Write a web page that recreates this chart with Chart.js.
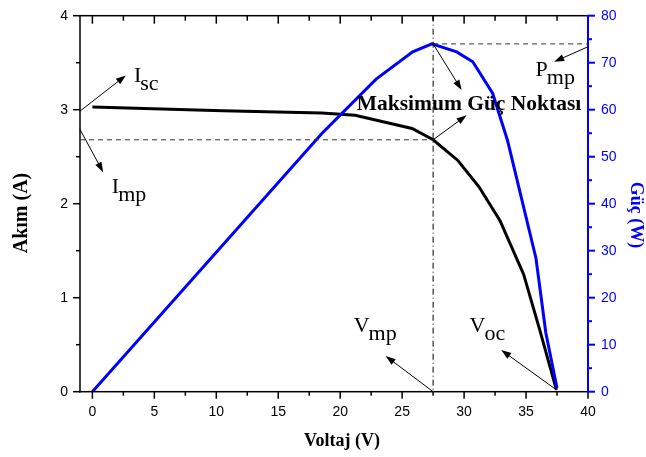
<!DOCTYPE html>
<html>
<head>
<meta charset="utf-8">
<script src="https://cdn.jsdelivr.net/npm/chart.js@4/dist/chart.umd.min.js"></script>
<style>
  html, body { margin: 0; padding: 0; background: #fff; }
  #wrap { width: 646px; height: 457px; position: relative; }
</style>
</head>
<body>
<div id="wrap"><canvas id="iv"></canvas></div>
<script>
// I-V curve of the panel (voltage in V, current in A)
const voltageI = [0, 10.5, 18.5, 21.2, 25.8, 27.5, 29.5, 31.2, 32.9, 34.2, 34.8, 36.1, 37.45];
const current = [3.03, 2.99, 2.965, 2.94, 2.8, 2.68, 2.46, 2.18, 1.82, 1.43, 1.25, 0.66, 0.02];

// P-V curve (voltage in V, power in W)
const voltageP = [0, 18.5, 22.9, 25.85, 27.4, 29.4, 30.7, 32.3, 33.5, 34.6, 35.8, 36.6, 37.5];
const power = [0, 54.9, 66.5, 72.3, 74.0, 72.3, 70.2, 63.5, 53.5, 41.5, 28.4, 12.5, 0.8];

// maximum power point
const vmp = 27.5;
const imp = 2.68;
const pmp = 74;

// axis ranges and tick steps
const xRange = [-1, 40];
const iRange = [0, 4];
const pRange = [0, 80];
const xStep = 5, iStep = 1, pStep = 10;

const SERIF = '"Liberation Serif", "Times New Roman", serif';
const SANS = '"Liberation Sans", Arial, sans-serif';

// axis lines and tick marks
const frame = {
  id: "frame",
  afterDatasetsDraw(chart) {
    const { ctx, scales } = chart;
    const a = chart.chartArea;
    const w = 1.5;
    ctx.save();
    ctx.fillStyle = "#000000";
    ctx.fillRect(a.left - w / 2, a.top - w / 2, w, a.bottom - a.top + w);
    ctx.fillRect(a.left - w / 2, a.bottom - w / 2, a.right - a.left + w, w);
    ctx.fillRect(a.left - w / 2, a.top - w / 2, a.right - a.left + w, w);
    for (let v = 0; v <= xRange[1] + 0.01; v += xStep / 2) {
      const px = scales.x.getPixelForValue(v);
      const major = Math.abs(v % xStep) < 0.01;
      ctx.fillRect(px - w / 2, a.bottom, w, major ? 7 : 4);
      ctx.fillRect(px - w / 2, a.top, w, major ? 8 : 5);
    }
    for (let v = iRange[0]; v <= iRange[1] + 0.01; v += iStep / 2) {
      const py = scales.y.getPixelForValue(v);
      const len = Math.abs(v % iStep) < 0.01 ? 7 : 4;
      ctx.fillRect(a.left - len, py - w / 2, len, w);
    }
    ctx.fillStyle = "#0000ff";
    ctx.fillRect(a.right - 1, a.top - w / 2, 2, a.bottom - a.top + w);
    for (let v = pRange[0]; v <= pRange[1] + 0.01; v += pStep / 2) {
      const py = scales.y1.getPixelForValue(v);
      const len = Math.abs(v % pStep) < 0.01 ? 7 : 4;
      ctx.fillRect(a.right, py - 1, len, 2);
    }
    ctx.restore();
  },
};

const drawArrow = (ctx, x0, y0, x1, y1) => {
  const ang = Math.atan2(y1 - y0, x1 - x0);
  const len = 10, half = 3.5;
  ctx.beginPath();
  ctx.moveTo(x0, y0);
  ctx.lineTo(x1 - Math.cos(ang) * (len - 2), y1 - Math.sin(ang) * (len - 2));
  ctx.stroke();
  ctx.beginPath();
  ctx.moveTo(x1, y1);
  ctx.lineTo(x1 - Math.cos(ang) * len - Math.sin(ang) * half, y1 - Math.sin(ang) * len + Math.cos(ang) * half);
  ctx.lineTo(x1 - Math.cos(ang) * len + Math.sin(ang) * half, y1 - Math.sin(ang) * len - Math.cos(ang) * half);
  ctx.closePath();
  ctx.fill();
};

// symbol with a subscript, e.g. I_sc
const drawSub = (ctx, main, sub, x, y) => {
  ctx.font = `22px ${SERIF}`;
  ctx.textBaseline = "alphabetic";
  ctx.textAlign = "left";
  ctx.fillText(main, x, y);
  const w = ctx.measureText(main).width;
  ctx.fillText(sub, x + w - 1, y + 8);
};

const annotations = {
  id: "annotations",
  afterDatasetsDraw(chart) {
    const { ctx, scales } = chart;
    const X = (v) => scales.x.getPixelForValue(v);
    const I = (v) => scales.y.getPixelForValue(v);
    const P = (v) => scales.y1.getPixelForValue(v);
    const area = chart.chartArea;
    ctx.save();

    // dashed guides through the maximum power point
    ctx.strokeStyle = "#333";
    ctx.lineWidth = 1;
    ctx.setLineDash([5, 4]);
    ctx.beginPath();
    ctx.moveTo(area.left, I(imp));
    ctx.lineTo(X(vmp), I(imp));
    ctx.moveTo(X(vmp), P(pmp));
    ctx.lineTo(area.right, P(pmp));
    ctx.stroke();

    ctx.strokeStyle = "#000";
    ctx.setLineDash([6, 3, 1, 3]);
    ctx.beginPath();
    ctx.moveTo(X(vmp), area.top);
    ctx.lineTo(X(vmp), area.bottom);
    ctx.stroke();
    ctx.setLineDash([]);

    // arrows
    ctx.fillStyle = "#000";
    drawArrow(ctx, X(-1), I(2.985), X(2.7), I(3.365));
    drawArrow(ctx, X(-1), I(2.79), X(0.87), I(2.335));
    drawArrow(ctx, X(vmp), P(pmp), X(29.8), P(64.2));
    drawArrow(ctx, X(vmp), I(imp), X(30.2), I(2.94));
    drawArrow(ctx, X(40), P(73.4), X(37.27), P(70.2));
    drawArrow(ctx, X(vmp), I(0), X(23.67), I(0.38));
    drawArrow(ctx, X(37.45), I(0.02), X(33.0), I(0.443));

    // labels
    drawSub(ctx, "I", "sc", X(3.35), I(3.29));
    drawSub(ctx, "I", "mp", X(1.57), I(2.11));
    drawSub(ctx, "P", "mp", X(35.77), I(3.355));
    drawSub(ctx, "V", "mp", X(21.09), I(0.635));
    drawSub(ctx, "V", "oc", X(30.44), I(0.635));

    ctx.font = `bold 21.5px ${SERIF}`;
    ctx.textAlign = "left";
    ctx.fillText("Maksimum Güç Noktası", X(21.33), I(3.0));

    // axis titles
    ctx.font = `bold 18px ${SERIF}`;
    ctx.textAlign = "center";
    ctx.textBaseline = "middle";
    ctx.fillText("Voltaj (V)", (area.left + area.right) / 2 + 8, 441);
    ctx.restore();

    ctx.save();
    ctx.translate(22, 213);
    ctx.rotate(-Math.PI / 2);
    ctx.font = `bold 20px ${SERIF}`;
    ctx.textAlign = "center";
    ctx.textBaseline = "middle";
    ctx.fillStyle = "#000";
    ctx.fillText("Akım (A)", 0, 0);
    ctx.restore();

    ctx.save();
    ctx.translate(636, 215);
    ctx.rotate(Math.PI / 2);
    ctx.font = `bold 18px ${SERIF}`;
    ctx.textAlign = "center";
    ctx.textBaseline = "middle";
    ctx.fillStyle = "#0000ff";
    ctx.fillText("Güç (W)", 0, 0);
    ctx.restore();
  },
};

const tickFont = { family: SANS, size: 14 };
const noPad = (s) => { s.paddingTop = 0; s.paddingBottom = 0; };

new Chart(document.getElementById("iv"), {
  type: "line",
  data: {
    datasets: [
      {
        label: "Güç (W)",
        data: voltageP.map((v, i) => ({ x: v, y: power[i] })),
        yAxisID: "y1",
        borderColor: "#0000ff",
        borderWidth: 3,
        pointRadius: 0,
        tension: 0,
        order: 0,
      },
      {
        label: "Akım (A)",
        data: voltageI.map((v, i) => ({ x: v, y: current[i] })),
        yAxisID: "y",
        borderColor: "#000",
        borderWidth: 3,
        pointRadius: 0,
        tension: 0,
        order: 1,
      },
    ],
  },
  options: {
    responsive: true,
    maintainAspectRatio: false,
    animation: false,
    layout: { padding: { top: 15.7, left: 0, right: 0, bottom: 0 } },
    plugins: { legend: { display: false }, tooltip: { enabled: false } },
    scales: {
      x: {
        type: "linear",
        min: xRange[0],
        max: xRange[1],
        afterBuildTicks: (s) => {
          s.ticks = [];
          for (let v = 0; v <= xRange[1]; v += xStep) s.ticks.push({ value: v });
        },
        ticks: { font: tickFont, color: "#000", padding: 12, maxRotation: 0 },
        grid: { display: false, drawTicks: false },
        border: { display: false },
        afterFit: (s) => { s.height = 65.3; s.paddingLeft = 0; s.paddingRight = 0; },
      },
      y: {
        position: "left",
        min: iRange[0],
        max: iRange[1],
        ticks: { stepSize: iStep, font: tickFont, color: "#000", padding: 12 },
        grid: { display: false, drawTicks: false },
        border: { display: false },
        afterFit: (s) => { s.width = 80; noPad(s); },
      },
      y1: {
        position: "right",
        min: pRange[0],
        max: pRange[1],
        ticks: { stepSize: pStep, font: tickFont, color: "#0000ff", padding: 13 },
        grid: { display: false, drawTicks: false },
        border: { display: false },
        afterFit: (s) => { s.width = 58; noPad(s); },
      },
    },
  },
  plugins: [frame, annotations],
});
</script>
</body>
</html>
